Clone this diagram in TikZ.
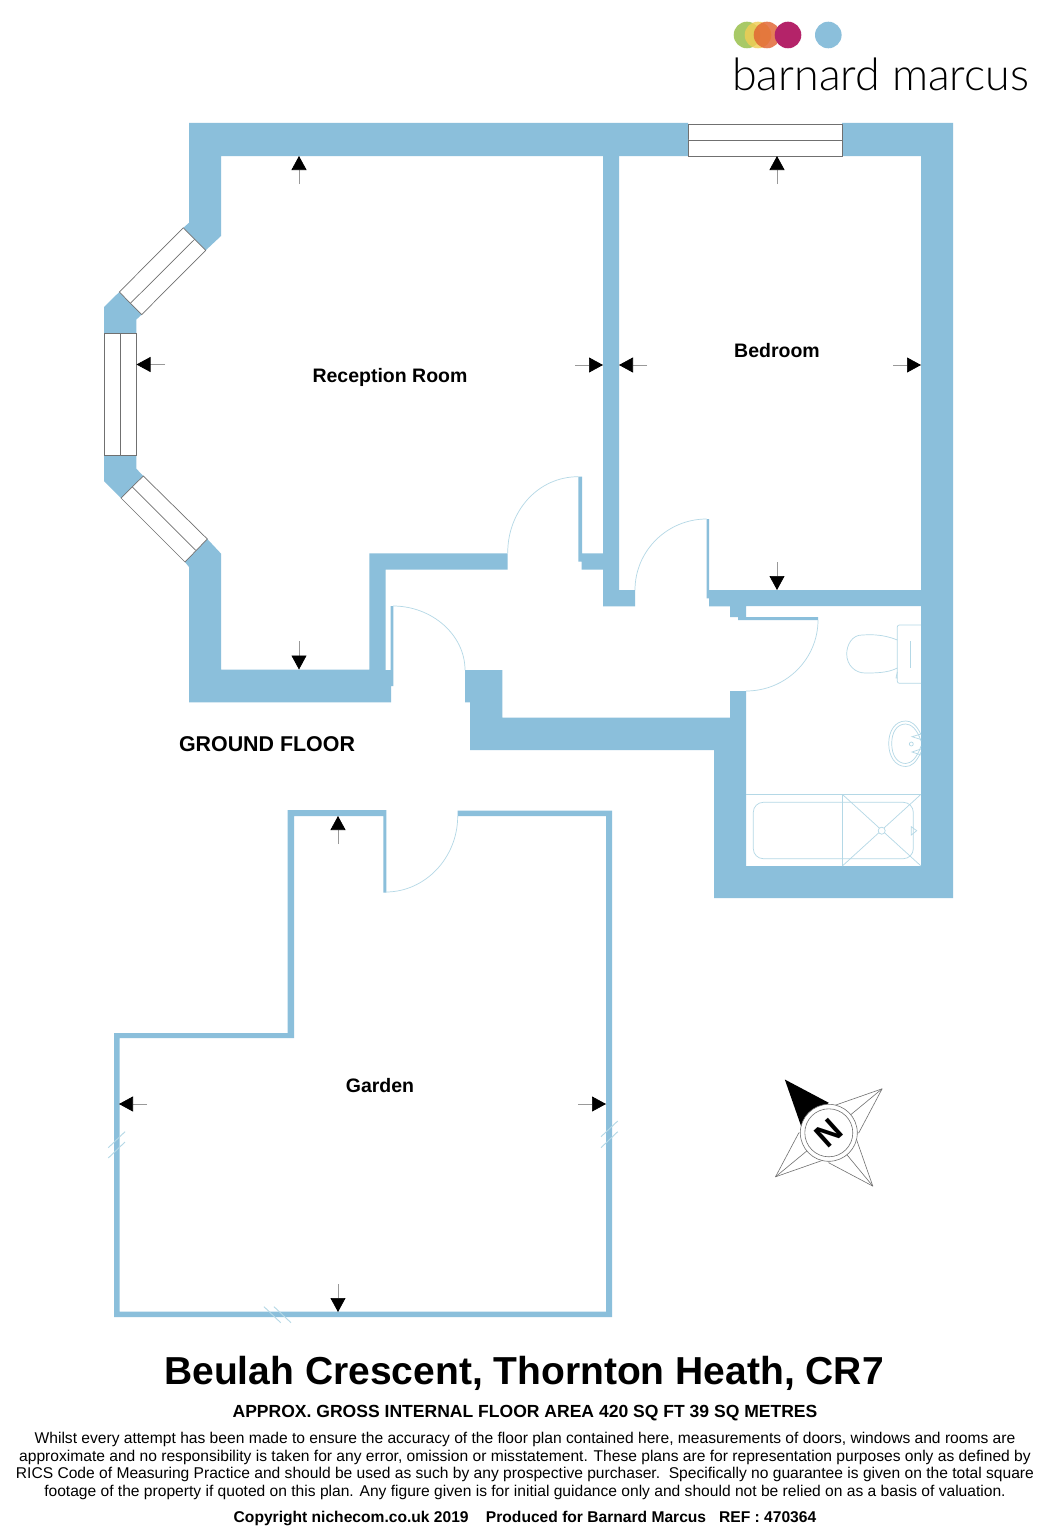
\documentclass[tikz,border=0pt]{standalone}
\usepackage{fontspec}
\setmainfont{Liberation Sans}
\newfontfamily\logofont{Lato Light}
\usetikzlibrary{arrows.meta}
\definecolor{wallblue}{HTML}{8BBFDB}
\definecolor{fixture}{HTML}{B4D8E6}
\definecolor{paneline}{HTML}{707070}

\begin{document}
\begin{tikzpicture}[x=1pt, y=-1pt,
		wall/.style={fill=wallblue, draw=none},
		pane/.style={fill=white, draw=paneline, line width=0.7pt},
		doorswing/.style={draw=fixture, line width=0.7pt},
		sanitary/.style={draw=fixture, line width=0.7pt},
		breakmark/.style={draw=fixture, line width=0.9pt},
		dimarrow/.style={draw=gray!80, line width=0.7pt, -{Triangle[length=14pt,width=15pt,color=black,fill=black]}},
		roomlabel/.style={font=\fontsize{19.5}{23}\bfseries\selectfont, inner sep=0pt},
		dot/.style={circle, minimum size=26.6pt, inner sep=0pt, opacity=0.82}]
		\useasboundingbox (0,0) rectangle (1053,1536);
		\fill[white] (0,0) rectangle (1053,1536);

		\node[dot, fill={rgb,255:red,150;green,190;blue,70}] (dotgreen) at (747,35) {};
		\node[dot, fill={rgb,255:red,240;green,205;blue,85}] (dotyellow) at (758,35) {};
		\node[dot, fill={rgb,255:red,225;green,100;blue,50}] (dotorange) at (767,35) {};
		\node[dot, fill={rgb,255:red,180;green,35;blue,105}, opacity=1] (dotcrimson) at (788,35) {};
		\node[dot, fill=wallblue, opacity=1] (dotblue) at (828.3,35) {};
		\node[font=\logofont\fontsize{44.8}{50}\selectfont, text=black, anchor=base west, inner sep=0pt] (logo) at (732,90.5) {barnard marcus};

		\path[wall] (189,123) -- (688,123) -- (688,156) -- (221,156) -- (221,236) -- (205.7,250.3) -- (183.3,227.8) -- (189,222.8) -- cycle;
		\path[wall] (842,123) -- (953,123) -- (953,898) -- (714,898) -- (714,750) -- (470,750) -- (470,702.3) -- (465,702.3) -- (465,670) -- (502.3,670) -- (502.3,717.7) -- (730,717.7) -- (730,691) -- (746,691) -- (746,866) -- (921,866) -- (921,606) -- (746,606) -- (746,617) -- (818,617) -- (818,620) -- (738,620) -- (738,617) -- (730,617) -- (730,606.3) -- (709,606.3) -- (709,598.3) -- (706.7,598.3) -- (706.7,519) -- (709,519) -- (709,590) -- (921,590) -- (921,156) -- (842,156) -- cycle;
		\path[wall] (603,150) -- (603,553.3) -- (582,553.3) -- (582,476.7) -- (578.3,476.7) -- (578.3,561.7) -- (581.7,561.7) -- (581.7,569.7) -- (603,569.7) -- (603,606.3) -- (635,606.3) -- (635,590) -- (619,590) -- (619,150) -- cycle;
		\path[wall] (207.3,539) -- (221,553.6) -- (221,669.5) -- (369.3,669.5) -- (369.3,553.3) -- (507.7,553.3) -- (507.7,569.7) -- (385.7,569.7) -- (385.7,670) -- (390.7,670) -- (390.7,606) -- (393.3,606) -- (393.3,686) -- (391,686) -- (391,702.3) -- (189,702.3) -- (189,567) -- (185,562) -- cycle;
		\path[wall] (119.3,292) -- (104,307) -- (104,333.3) -- (136.3,333.3) -- (136.3,319.6) -- (141.7,314.6) -- cycle;
		\path[wall] (104,455.3) -- (136.3,455.3) -- (136.3,468.7) -- (143.3,476) -- (121,498) -- (104,481) -- cycle;
		\path[wall] (287.7,810) -- (386.3,810) -- (386.3,892.7) -- (383.3,892.7) -- (383.3,816) -- (294,816) -- (294,1038) -- (119.5,1038) -- (119.5,1311.5) -- (606,1311.5) -- (606,816) -- (457.7,816) -- (457.7,810.7) -- (612,810.7) -- (612,1317) -- (114,1317) -- (114,1033) -- (287.7,1033) -- cycle;

		\draw[pane] (688,124) rectangle (842,156);
		\draw[pane] (688,140) -- (842,140);
		\draw[pane] (104,333.3) rectangle (136.3,455.3);
		\draw[pane] (120.3,333.3) -- (120.3,455.3);
		\draw[pane] (183.3,227.8) -- (205.7,250.3) -- (141.7,314.6) -- (119.3,292) -- cycle;
		\draw[pane] (194.7,239.3) -- (130.7,303);
		\draw[pane] (143.3,476) -- (207.3,539) -- (185,562) -- (121,498) -- cycle;
		\draw[pane] (132.3,487) -- (196,550.5);

		\draw[doorswing] (507.7,553) .. controls (507.7,511) and (538,476.7) .. (578.3,476.7);
		\draw[doorswing] (635,590) .. controls (635,551) and (667,519) .. (706.7,519);
		\draw[doorswing] (393,606) .. controls (432,606) and (465,635) .. (465,670);
		\draw[doorswing] (818,620) .. controls (818,659) and (786,691) .. (746,691);
		\draw[doorswing] (385.7,892) .. controls (425,892) and (457.7,858) .. (457.7,816);

		\draw[sanitary, rounded corners=2pt] (921,625) -- (897.3,625) -- (897.3,683.3) -- (921,683.3);
		\draw[sanitary] (897.3,640) .. controls (880,633) and (866,635) .. (862,635) .. controls (852,635) and (846.7,645) .. (846.7,654) .. controls (846.7,665) and (855,673) .. (865,673) .. controls (875,673) and (888,673) .. (897.3,668);
		\draw[sanitary] (910,641) -- (910,668);
		\draw[sanitary] (897.3,672) -- (896,678) -- (897.3,678);
		\draw[sanitary] (921,734.5) .. controls (916,724) and (911,721) .. (905.7,721) .. controls (895,721) and (888.7,731) .. (888.7,743.5) .. controls (888.7,756) and (895,766.5) .. (905.7,766.5) .. controls (911,766.5) and (916,763) .. (921,752);
		\draw[sanitary] (921,741) .. controls (917,729) and (911,724) .. (905.7,724) .. controls (897,724) and (891.7,732) .. (891.7,743.5) .. controls (891.7,755) and (897,763.5) .. (905.7,763.5) .. controls (911,763.5) and (917,758) .. (921,746);
		\draw[sanitary] (911.3,744) circle (2);
		\draw[sanitary] (921,734) -- (912,736.7) -- (921,739.5);
		\draw[sanitary] (921,749) -- (912,752) -- (921,755);
		\draw[sanitary] (746,794.3) -- (921,794.3);
		\draw[sanitary, rounded corners=10pt] (753.3,802.3) rectangle (913.3,858.7);
		\draw[sanitary] (842.3,794.3) -- (842.3,866);
		\draw[sanitary] (842.3,794.3) -- (921,866);
		\draw[sanitary] (842.3,866) -- (921,794.3);
		\draw[sanitary, fill=white] (881.7,830.7) circle (3.5);
		\draw[sanitary] (911.3,826.7) -- (916.7,830.7) -- (911.3,835) -- cycle;

		\draw[breakmark] (108.3,1147.7) -- (125,1131.7);
		\draw[breakmark] (108.3,1158) -- (125,1142);
		\draw[breakmark] (264,1306.7) -- (280.7,1322.7);
		\draw[breakmark] (274,1306.7) -- (291,1322.7);
		\draw[breakmark] (601,1136.7) -- (617.7,1121);
		\draw[breakmark] (601,1147.7) -- (617.7,1131.7);

		\foreach \tailx/\taily/\tipx/\tipy in {299/184/299/156, 165/364.5/136.5/364.5, 299/641/299/669.5,
				575/365/603/365, 647/365/619/365, 893/365/921/365, 777/184/777/156, 777/562/777/590,
				338/844/338/816, 147/1104/119/1104, 578/1104/606/1104, 338/1284/338/1312}
			\draw[dimarrow] (\tailx,\taily) -- (\tipx,\tipy);

		\begin{scope}[shift={(828.8,1132.8)}]
			\foreach \turn in {90,180,270} {
				\begin{scope}[rotate=\turn]
					\draw[paneline, line width=0.6pt, fill=white, line join=round] (-44,-53.3) -- (0,-30) -- (0,0) -- (-27.7,-6.7) -- cycle;
					\draw[paneline, line width=0.6pt] (-44,-53.3) -- (0,0);
				\end{scope}
			}
			\fill[black] (-44,-53.3) -- (0,-30) -- (-27.7,-6.7) -- cycle;
			\draw[paneline, line width=0.6pt, fill=white] (0,0) circle (28.5);
			\draw[paneline, line width=0.6pt] (0,0) circle (24);
			\node[font=\fontsize{33}{33}\bfseries\selectfont, rotate=42, inner sep=0pt] (north) at (0,0) {N};
		\end{scope}

		\node[roomlabel] (reception) at (390,377.5) {Reception Room};
		\node[roomlabel] (bedroom) at (777,351) {Bedroom};
		\node[roomlabel] (garden) at (380,1086) {Garden};
		\node[font=\fontsize{21.4}{25}\bfseries\selectfont, inner sep=0pt] (floor) at (267,744) {GROUND FLOOR};
		\node[font=\fontsize{39}{44}\bfseries\selectfont, inner sep=0pt] (title) at (524,1373.5) {Beulah Crescent, Thornton Heath, CR7};
		\node[font=\fontsize{17.54}{20}\bfseries\selectfont, inner sep=0pt] (area) at (525,1413) {APPROX. GROSS INTERNAL FLOOR AREA 420 SQ FT 39 SQ METRES};
		\node[font=\fontsize{15.6}{17.4}\selectfont, align=center, inner sep=0pt] (disclaimer) at (525,1466) {Whilst every attempt has been made to ensure the accuracy of the floor plan contained here, measurements of doors, windows and rooms are\\
			approximate and no responsibility is taken for any error, omission or misstatement. These plans are for representation purposes only as defined by\\
			RICS Code of Measuring Practice and should be used as such by any prospective purchaser.\ \ Specifically no guarantee is given on the total square\\
			footage of the property if quoted on this plan. Any figure given is for initial guidance only and should not be relied on as a basis of valuation.};
		\node[font=\fontsize{15.6}{18}\bfseries\selectfont, inner sep=0pt] (copyright) at (525,1518) {Copyright nichecom.co.uk 2019\ \ \ \ Produced for Barnard Marcus\ \ \ REF : 470364};
\end{tikzpicture}
\end{document}
